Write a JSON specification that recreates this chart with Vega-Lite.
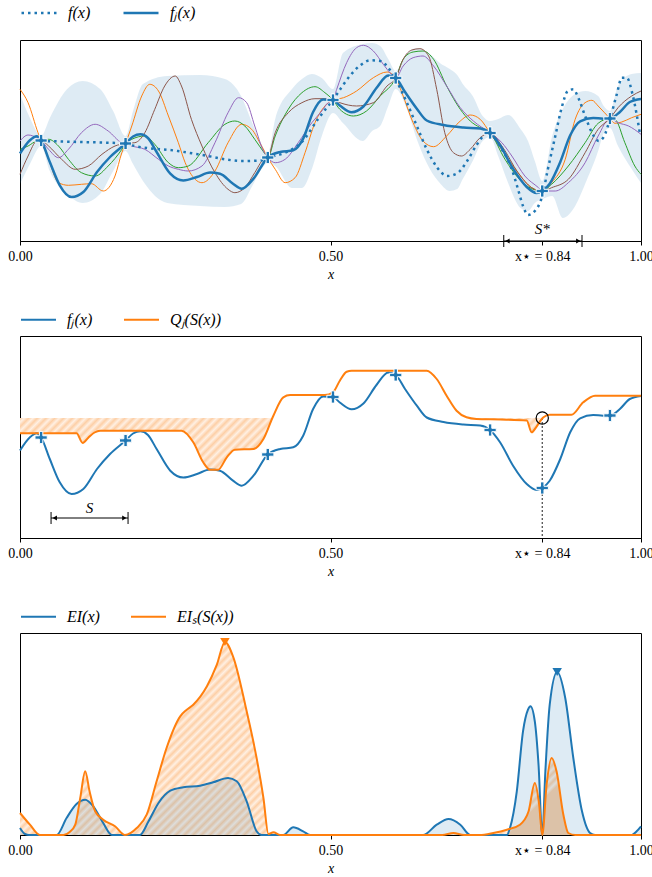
{
  "$schema": "https://vega.github.io/schema/vega-lite/v6.json",
  "padding": {"left": 7, "top": -7, "right": 5, "bottom": 5},
  "spacing": 18,
  "resolve": {"scale": {"color": "independent", "stroke": "independent", "shape": "independent", "fill": "independent"}, "legend": {"color": "independent"}},
  "config": {
    "view": {"stroke": "#000000", "strokeWidth": 1},
    "font": "Liberation Serif",
    "axis": {"grid": false, "labelFont": "Liberation Serif", "titleFont": "Liberation Serif", "labelFontSize": 14, "titleFontSize": 14, "labelColor": "#000", "titleColor": "#000", "tickColor": "#000", "domainColor": "#000", "titleFontWeight": "normal", "titleFontStyle": "italic", "tickSize": 4, "labelPadding": 4, "titlePadding": 4, "labelFlush": false, "labelOverlap": false},
    "legend": {"orient": "top", "direction": "horizontal", "symbolType": "stroke", "symbolSize": 1225, "symbolStrokeWidth": 2, "labelFont": "Liberation Serif", "labelFontStyle": "italic", "labelFontSize": 16, "labelColor": "#000", "columnPadding": 27, "labelOffset": 10, "offset": 8, "padding": 0}
  },
  "datasets": {
    "band": [
      {"x":0,"hi":147,"lo":57},{"x":0.016,"hi":123,"lo":77},{"x":0.034,"hi":105,"lo":95},{"x":0.048,"hi":123,"lo":70},{"x":0.076,"hi":152,"lo":47},{"x":0.101,"hi":160,"lo":38},{"x":0.129,"hi":152,"lo":47},{"x":0.150,"hi":130,"lo":70},{"x":0.170,"hi":105,"lo":90},{"x":0.182,"hi":130,"lo":77},{"x":0.198,"hi":157,"lo":60},{"x":0.237,"hi":165,"lo":38},{"x":0.290,"hi":166,"lo":35},{"x":0.330,"hi":162,"lo":34},{"x":0.356,"hi":145,"lo":37},{"x":0.374,"hi":118,"lo":55},{"x":0.388,"hi":98,"lo":71},{"x":0.399,"hi":88,"lo":78},{"x":0.411,"hi":122,"lo":75},{"x":0.438,"hi":152,"lo":53},{"x":0.454,"hi":162,"lo":53},{"x":0.470,"hi":167,"lo":72},{"x":0.486,"hi":163,"lo":105},{"x":0.504,"hi":152,"lo":128},{"x":0.520,"hi":188,"lo":118},{"x":0.552,"hi":197,"lo":100},{"x":0.567,"hi":198,"lo":110},{"x":0.580,"hi":195,"lo":115},{"x":0.593,"hi":182,"lo":135},{"x":0.605,"hi":170,"lo":152},{"x":0.623,"hi":188,"lo":132},{"x":0.640,"hi":193,"lo":100},{"x":0.660,"hi":187,"lo":72},{"x":0.676,"hi":178,"lo":58},{"x":0.692,"hi":172,"lo":50},{"x":0.704,"hi":166,"lo":52},{"x":0.713,"hi":157,"lo":62},{"x":0.729,"hi":145,"lo":80},{"x":0.745,"hi":125,"lo":100},{"x":0.757,"hi":120,"lo":104},{"x":0.770,"hi":122,"lo":85},{"x":0.786,"hi":126,"lo":58},{"x":0.806,"hi":112,"lo":33},{"x":0.818,"hi":100,"lo":30},{"x":0.829,"hi":80,"lo":38},{"x":0.841,"hi":60,"lo":42},{"x":0.857,"hi":105,"lo":45},{"x":0.874,"hi":132,"lo":23},{"x":0.894,"hi":147,"lo":35},{"x":0.910,"hi":150,"lo":57},{"x":0.931,"hi":145,"lo":90},{"x":0.940,"hi":135,"lo":108},{"x":0.950,"hi":130,"lo":113},{"x":0.963,"hi":155,"lo":95},{"x":0.985,"hi":167,"lo":72},{"x":1.0,"hi":168,"lo":58}
    ],
    "f": [
      {"x":0.034,"y":100},{"x":0.097,"y":99},{"x":0.169,"y":97.5},{"x":0.185,"y":95},{"x":0.254,"y":90},{"x":0.277,"y":87.7},{"x":0.303,"y":85},{"x":0.330,"y":81.7},{"x":0.357,"y":80},{"x":0.390,"y":80.7},{"x":0.399,"y":83},{"x":0.427,"y":88.3},{"x":0.454,"y":99},{"x":0.480,"y":122},{"x":0.494,"y":133.3},{"x":0.504,"y":141},{"x":0.512,"y":148.3},{"x":0.531,"y":165},{"x":0.548,"y":175.7},{"x":0.564,"y":180.7},{"x":0.580,"y":180},{"x":0.593,"y":173.3},{"x":0.604,"y":162.7},{"x":0.623,"y":138.3},{"x":0.639,"y":115},{"x":0.655,"y":91.7},{"x":0.672,"y":73.3},{"x":0.688,"y":65},{"x":0.704,"y":67.7},{"x":0.720,"y":80},{"x":0.736,"y":96.7},{"x":0.754,"y":108.3},{"x":0.776,"y":91.7},{"x":0.792,"y":71.7},{"x":0.802,"y":51.7},{"x":0.810,"y":35},{"x":0.818,"y":26},{"x":0.829,"y":30},{"x":0.841,"y":45},{"x":0.850,"y":71.7},{"x":0.862,"y":105},{"x":0.873,"y":135},{"x":0.882,"y":150},{"x":0.891,"y":151.7},{"x":0.899,"y":143.3},{"x":0.910,"y":125},{"x":0.921,"y":108.3},{"x":0.932,"y":100},{"x":0.940,"y":104},{"x":0.950,"y":122},{"x":0.961,"y":146.7},{"x":0.969,"y":163.3},{"x":0.977,"y":163.3},{"x":0.987,"y":145},{"x":0.998,"y":108.3}
    ],
    "fj": [
      {"x":0,"y":87.5},{"x":0.016,"y":100.7},{"x":0.027,"y":104.7},{"x":0.034,"y":100.5},{"x":0.048,"y":79},{"x":0.064,"y":55.7},{"x":0.083,"y":44},{"x":0.102,"y":49},{"x":0.124,"y":69},{"x":0.145,"y":84},{"x":0.170,"y":97.5},{"x":0.182,"y":104.5},{"x":0.194,"y":106.7},{"x":0.206,"y":103},{"x":0.220,"y":89},{"x":0.242,"y":67.3},{"x":0.263,"y":60.5},{"x":0.285,"y":64},{"x":0.306,"y":68.5},{"x":0.322,"y":67.3},{"x":0.343,"y":57.3},{"x":0.357,"y":52.3},{"x":0.376,"y":62.3},{"x":0.399,"y":83.5},{"x":0.419,"y":89},{"x":0.440,"y":90.7},{"x":0.456,"y":102.3},{"x":0.472,"y":129},{"x":0.488,"y":141.5},{"x":0.504,"y":141},{"x":0.515,"y":135.5},{"x":0.534,"y":128.7},{"x":0.553,"y":134.5},{"x":0.574,"y":153},{"x":0.593,"y":165.5},{"x":0.605,"y":163},{"x":0.620,"y":149},{"x":0.639,"y":132.3},{"x":0.655,"y":120.5},{"x":0.682,"y":116},{"x":0.714,"y":113.5},{"x":0.741,"y":112.5},{"x":0.757,"y":108},{"x":0.773,"y":95.7},{"x":0.794,"y":72.3},{"x":0.816,"y":54},{"x":0.832,"y":48},{"x":0.841,"y":50},{"x":0.853,"y":57.3},{"x":0.870,"y":79},{"x":0.886,"y":105.7},{"x":0.902,"y":119.7},{"x":0.923,"y":123},{"x":0.939,"y":122.3},{"x":0.950,"y":122.5},{"x":0.966,"y":129},{"x":0.982,"y":139},{"x":1.0,"y":142}
    ],
    "obs": [
      {"x":0.034,"y":100.5},{"x":0.170,"y":97.5},{"x":0.399,"y":83.5},{"x":0.504,"y":141},{"x":0.605,"y":163},{"x":0.757,"y":108},{"x":0.841,"y":50},{"x":0.950,"y":122.5}
    ],
    "samples": [
      {"c":"o","x":0,"y":151.7},{"c":"o","x":0.013,"y":138.3},{"c":"o","x":0.029,"y":108.3},{"c":"o","x":0.034,"y":100.5},{"c":"o","x":0.046,"y":81.7},{"c":"o","x":0.062,"y":58.3},{"c":"o","x":0.078,"y":55.7},{"c":"o","x":0.099,"y":56.7},{"c":"o","x":0.115,"y":57.3},{"c":"o","x":0.134,"y":50},{"c":"o","x":0.153,"y":65},{"c":"o","x":0.164,"y":88.3},{"c":"o","x":0.170,"y":97.5},{"c":"o","x":0.180,"y":115},{"c":"o","x":0.196,"y":145},{"c":"o","x":0.209,"y":156.7},{"c":"o","x":0.223,"y":150},{"c":"o","x":0.239,"y":125},{"c":"o","x":0.255,"y":98.3},{"c":"o","x":0.266,"y":78.3},{"c":"o","x":0.282,"y":61.7},{"c":"o","x":0.293,"y":58.3},{"c":"o","x":0.314,"y":70},{"c":"o","x":0.335,"y":98.3},{"c":"o","x":0.357,"y":116.7},{"c":"o","x":0.373,"y":111.7},{"c":"o","x":0.389,"y":95},{"c":"o","x":0.399,"y":83.5},{"c":"o","x":0.411,"y":71.7},{"c":"o","x":0.427,"y":58.3},{"c":"o","x":0.443,"y":63.3},{"c":"o","x":0.459,"y":88.3},{"c":"o","x":0.475,"y":118.3},{"c":"o","x":0.491,"y":135},{"c":"o","x":0.504,"y":141},{"c":"o","x":0.521,"y":143.3},{"c":"o","x":0.542,"y":150},{"c":"o","x":0.569,"y":163.3},{"c":"o","x":0.591,"y":169},{"c":"o","x":0.605,"y":163},{"c":"o","x":0.615,"y":148.3},{"c":"o","x":0.633,"y":118.3},{"c":"o","x":0.649,"y":100},{"c":"o","x":0.666,"y":94.3},{"c":"o","x":0.687,"y":105},{"c":"o","x":0.709,"y":120},{"c":"o","x":0.725,"y":126},{"c":"o","x":0.741,"y":121.7},{"c":"o","x":0.757,"y":108},{"c":"o","x":0.781,"y":86.7},{"c":"o","x":0.802,"y":68.3},{"c":"o","x":0.824,"y":53.3},{"c":"o","x":0.841,"y":50},{"c":"o","x":0.856,"y":58.3},{"c":"o","x":0.878,"y":81.7},{"c":"o","x":0.894,"y":121.7},{"c":"o","x":0.910,"y":138.3},{"c":"o","x":0.921,"y":140.7},{"c":"o","x":0.931,"y":135},{"c":"o","x":0.950,"y":122.5},{"c":"o","x":0.958,"y":117.7},{"c":"o","x":0.969,"y":119},{"c":"o","x":0.985,"y":123.3},{"c":"o","x":1.0,"y":126.7},
      {"c":"g","x":0,"y":91.7},{"c":"g","x":0.013,"y":95},{"c":"g","x":0.027,"y":100},{"c":"g","x":0.034,"y":100.5},{"c":"g","x":0.046,"y":101.7},{"c":"g","x":0.062,"y":95},{"c":"g","x":0.078,"y":81.7},{"c":"g","x":0.099,"y":68.3},{"c":"g","x":0.121,"y":65},{"c":"g","x":0.142,"y":75},{"c":"g","x":0.164,"y":91.7},{"c":"g","x":0.170,"y":97.5},{"c":"g","x":0.180,"y":101.7},{"c":"g","x":0.201,"y":105},{"c":"g","x":0.217,"y":96.7},{"c":"g","x":0.239,"y":78.3},{"c":"g","x":0.255,"y":73.3},{"c":"g","x":0.271,"y":75},{"c":"g","x":0.303,"y":98.3},{"c":"g","x":0.330,"y":116.7},{"c":"g","x":0.346,"y":120},{"c":"g","x":0.362,"y":115},{"c":"g","x":0.378,"y":101.7},{"c":"g","x":0.395,"y":86.7},{"c":"g","x":0.399,"y":83.5},{"c":"g","x":0.411,"y":105},{"c":"g","x":0.432,"y":131.7},{"c":"g","x":0.454,"y":148.3},{"c":"g","x":0.475,"y":154.3},{"c":"g","x":0.491,"y":148.3},{"c":"g","x":0.504,"y":141},{"c":"g","x":0.515,"y":131.7},{"c":"g","x":0.537,"y":125},{"c":"g","x":0.558,"y":130},{"c":"g","x":0.580,"y":145},{"c":"g","x":0.605,"y":163},{"c":"g","x":0.617,"y":181.7},{"c":"g","x":0.633,"y":189},{"c":"g","x":0.649,"y":190},{"c":"g","x":0.666,"y":181.7},{"c":"g","x":0.687,"y":155},{"c":"g","x":0.709,"y":131.7},{"c":"g","x":0.725,"y":120},{"c":"g","x":0.741,"y":113.3},{"c":"g","x":0.757,"y":108},{"c":"g","x":0.781,"y":81.7},{"c":"g","x":0.802,"y":63.3},{"c":"g","x":0.824,"y":52.3},{"c":"g","x":0.841,"y":50},{"c":"g","x":0.856,"y":56.7},{"c":"g","x":0.883,"y":75},{"c":"g","x":0.910,"y":98.3},{"c":"g","x":0.931,"y":117.7},{"c":"g","x":0.950,"y":122.5},{"c":"g","x":0.958,"y":121.7},{"c":"g","x":0.974,"y":98.3},{"c":"g","x":0.990,"y":75},{"c":"g","x":1.0,"y":66.7},
      {"c":"p","x":0,"y":100},{"c":"p","x":0.013,"y":106},{"c":"p","x":0.027,"y":103.3},{"c":"p","x":0.034,"y":100.5},{"c":"p","x":0.046,"y":91.7},{"c":"p","x":0.062,"y":83.3},{"c":"p","x":0.078,"y":91.7},{"c":"p","x":0.099,"y":108.3},{"c":"p","x":0.121,"y":116.7},{"c":"p","x":0.142,"y":110},{"c":"p","x":0.164,"y":98.3},{"c":"p","x":0.170,"y":97.5},{"c":"p","x":0.180,"y":95},{"c":"p","x":0.201,"y":91.7},{"c":"p","x":0.223,"y":81.7},{"c":"p","x":0.239,"y":75},{"c":"p","x":0.255,"y":71.7},{"c":"p","x":0.271,"y":70},{"c":"p","x":0.293,"y":75},{"c":"p","x":0.314,"y":98.3},{"c":"p","x":0.335,"y":128.3},{"c":"p","x":0.352,"y":143.3},{"c":"p","x":0.365,"y":138.3},{"c":"p","x":0.378,"y":115},{"c":"p","x":0.392,"y":90},{"c":"p","x":0.399,"y":83.5},{"c":"p","x":0.411,"y":78.3},{"c":"p","x":0.427,"y":81.7},{"c":"p","x":0.448,"y":98.3},{"c":"p","x":0.470,"y":118.3},{"c":"p","x":0.486,"y":130},{"c":"p","x":0.496,"y":138.3},{"c":"p","x":0.504,"y":141},{"c":"p","x":0.510,"y":151.7},{"c":"p","x":0.526,"y":178.3},{"c":"p","x":0.542,"y":193.3},{"c":"p","x":0.553,"y":195.7},{"c":"p","x":0.569,"y":190},{"c":"p","x":0.585,"y":176.7},{"c":"p","x":0.598,"y":166.7},{"c":"p","x":0.605,"y":163},{"c":"p","x":0.617,"y":175},{"c":"p","x":0.633,"y":183.3},{"c":"p","x":0.649,"y":185},{"c":"p","x":0.666,"y":175},{"c":"p","x":0.687,"y":155},{"c":"p","x":0.709,"y":133.3},{"c":"p","x":0.730,"y":120},{"c":"p","x":0.757,"y":108},{"c":"p","x":0.776,"y":98.3},{"c":"p","x":0.792,"y":85},{"c":"p","x":0.813,"y":65},{"c":"p","x":0.835,"y":53.3},{"c":"p","x":0.841,"y":50},{"c":"p","x":0.862,"y":50},{"c":"p","x":0.883,"y":58.3},{"c":"p","x":0.910,"y":78.3},{"c":"p","x":0.931,"y":105},{"c":"p","x":0.950,"y":122.5},{"c":"p","x":0.963,"y":118.3},{"c":"p","x":0.980,"y":115},{"c":"p","x":1.0,"y":106.7},
      {"c":"b","x":0,"y":66.7},{"c":"b","x":0.013,"y":85},{"c":"b","x":0.027,"y":100},{"c":"b","x":0.034,"y":100.5},{"c":"b","x":0.046,"y":95},{"c":"b","x":0.067,"y":81.7},{"c":"b","x":0.089,"y":71.7},{"c":"b","x":0.110,"y":75},{"c":"b","x":0.132,"y":86.7},{"c":"b","x":0.153,"y":95},{"c":"b","x":0.170,"y":97.5},{"c":"b","x":0.185,"y":98.3},{"c":"b","x":0.201,"y":108.3},{"c":"b","x":0.217,"y":131.7},{"c":"b","x":0.233,"y":155},{"c":"b","x":0.250,"y":165},{"c":"b","x":0.260,"y":155},{"c":"b","x":0.276,"y":121.7},{"c":"b","x":0.293,"y":95},{"c":"b","x":0.314,"y":68.3},{"c":"b","x":0.335,"y":51.7},{"c":"b","x":0.346,"y":48.3},{"c":"b","x":0.362,"y":53.3},{"c":"b","x":0.378,"y":68.3},{"c":"b","x":0.392,"y":81.7},{"c":"b","x":0.399,"y":83.5},{"c":"b","x":0.411,"y":108.3},{"c":"b","x":0.432,"y":128.3},{"c":"b","x":0.454,"y":138.3},{"c":"b","x":0.475,"y":142.3},{"c":"b","x":0.491,"y":142.3},{"c":"b","x":0.504,"y":141},{"c":"b","x":0.515,"y":138.3},{"c":"b","x":0.542,"y":135},{"c":"b","x":0.569,"y":138.3},{"c":"b","x":0.591,"y":155},{"c":"b","x":0.605,"y":163},{"c":"b","x":0.617,"y":181.7},{"c":"b","x":0.631,"y":191},{"c":"b","x":0.644,"y":192.3},{"c":"b","x":0.658,"y":185},{"c":"b","x":0.671,"y":151.7},{"c":"b","x":0.684,"y":108.3},{"c":"b","x":0.698,"y":88.3},{"c":"b","x":0.711,"y":85},{"c":"b","x":0.725,"y":91.7},{"c":"b","x":0.741,"y":103.3},{"c":"b","x":0.757,"y":108},{"c":"b","x":0.776,"y":95},{"c":"b","x":0.802,"y":68.3},{"c":"b","x":0.824,"y":53.3},{"c":"b","x":0.841,"y":50},{"c":"b","x":0.856,"y":53.3},{"c":"b","x":0.883,"y":61.7},{"c":"b","x":0.910,"y":88.3},{"c":"b","x":0.931,"y":111.7},{"c":"b","x":0.950,"y":122.5},{"c":"b","x":0.963,"y":133.3},{"c":"b","x":0.985,"y":145},{"c":"b","x":1.0,"y":150}
    ],
    "q": [
      {"x":0,"y":104.7},{"x":0.091,"y":104.7},{"x":0.101,"y":95},{"x":0.110,"y":100.3},{"x":0.120,"y":105.5},{"x":0.129,"y":107.3},{"x":0.260,"y":107.3},{"x":0.279,"y":95.7},{"x":0.295,"y":75.7},{"x":0.306,"y":68.3},{"x":0.319,"y":68.3},{"x":0.333,"y":80.7},{"x":0.346,"y":88.3},{"x":0.376,"y":89},{"x":0.392,"y":99},{"x":0.408,"y":122.3},{"x":0.424,"y":140.7},{"x":0.435,"y":143},{"x":0.491,"y":143},{"x":0.504,"y":145.7},{"x":0.515,"y":157.3},{"x":0.526,"y":166.3},{"x":0.534,"y":167.3},{"x":0.655,"y":167.3},{"x":0.671,"y":159},{"x":0.687,"y":142.3},{"x":0.703,"y":127.3},{"x":0.719,"y":120.7},{"x":0.735,"y":119},{"x":0.773,"y":118.5},{"x":0.816,"y":117.5},{"x":0.824,"y":105.7},{"x":0.831,"y":110.7},{"x":0.839,"y":118},{"x":0.843,"y":120.7},{"x":0.853,"y":123.3},{"x":0.888,"y":123.3},{"x":0.907,"y":135.7},{"x":0.926,"y":142.3},{"x":1.0,"y":142.3}
    ],
    "qfill": [
      {"seg":"a","x":0,"y":104.7},{"seg":"a","x":0.091,"y":104.7},{"seg":"a","x":0.101,"y":95},{"seg":"a","x":0.110,"y":100.3},{"seg":"a","x":0.120,"y":105.5},{"seg":"a","x":0.129,"y":107.3},{"seg":"a","x":0.260,"y":107.3},{"seg":"a","x":0.279,"y":95.7},{"seg":"a","x":0.295,"y":75.7},{"seg":"a","x":0.306,"y":68.3},{"seg":"a","x":0.319,"y":68.3},{"seg":"a","x":0.333,"y":80.7},{"seg":"a","x":0.346,"y":88.3},{"seg":"a","x":0.376,"y":89},{"seg":"a","x":0.392,"y":99},{"seg":"a","x":0.406,"y":120},
      {"seg":"b","x":0.723,"y":120},{"seg":"b","x":0.735,"y":119},{"seg":"b","x":0.773,"y":118.5},{"seg":"b","x":0.816,"y":117.5},{"seg":"b","x":0.824,"y":105.7},{"seg":"b","x":0.831,"y":110.7},{"seg":"b","x":0.839,"y":118},{"seg":"b","x":0.841,"y":120}
    ],
    "ei": [
      {"x":0,"y":7},{"x":0.008,"y":1},{"x":0.015,"y":0},{"x":0.059,"y":0},{"x":0.075,"y":17},{"x":0.091,"y":31},{"x":0.105,"y":35.3},{"x":0.118,"y":28.7},{"x":0.134,"y":12},{"x":0.148,"y":0},{"x":0.193,"y":0},{"x":0.207,"y":13.7},{"x":0.223,"y":32},{"x":0.242,"y":44.3},{"x":0.263,"y":47.7},{"x":0.290,"y":49.3},{"x":0.311,"y":52.7},{"x":0.335,"y":57},{"x":0.349,"y":53.7},{"x":0.365,"y":33.7},{"x":0.381,"y":3.7},{"x":0.389,"y":0},{"x":0.424,"y":0},{"x":0.440,"y":7.7},{"x":0.456,"y":3.7},{"x":0.467,"y":0},{"x":0.649,"y":0},{"x":0.671,"y":10.3},{"x":0.690,"y":16},{"x":0.709,"y":10.3},{"x":0.725,"y":0},{"x":0.784,"y":0},{"x":0.789,"y":7},{"x":0.800,"y":43.7},{"x":0.810,"y":103.7},{"x":0.818,"y":125.3},{"x":0.822,"y":128.7},{"x":0.829,"y":113.7},{"x":0.835,"y":70.3},{"x":0.841,"y":0},{"x":0.846,"y":63.7},{"x":0.853,"y":130.3},{"x":0.865,"y":163},{"x":0.878,"y":137},{"x":0.891,"y":77},{"x":0.905,"y":23.7},{"x":0.918,"y":2},{"x":0.926,"y":0},{"x":0.985,"y":0},{"x":0.993,"y":3.7},{"x":1.0,"y":8.7}
    ],
    "eis": [
      {"x":0,"y":22},{"x":0.016,"y":10.3},{"x":0.032,"y":0},{"x":0.070,"y":0},{"x":0.080,"y":3},{"x":0.089,"y":10.3},{"x":0.097,"y":37},{"x":0.105,"y":63.7},{"x":0.112,"y":43.7},{"x":0.121,"y":23.7},{"x":0.134,"y":15.3},{"x":0.153,"y":8.7},{"x":0.169,"y":0},{"x":0.188,"y":7},{"x":0.204,"y":20.3},{"x":0.220,"y":53.7},{"x":0.236,"y":87},{"x":0.258,"y":118.7},{"x":0.268,"y":125},{"x":0.279,"y":130.3},{"x":0.301,"y":148.7},{"x":0.317,"y":170.3},{"x":0.330,"y":193},{"x":0.343,"y":178.7},{"x":0.365,"y":123.7},{"x":0.381,"y":77},{"x":0.392,"y":37},{"x":0.400,"y":1},{"x":0.408,"y":2.7},{"x":0.419,"y":0},{"x":0.680,"y":0},{"x":0.698,"y":2},{"x":0.715,"y":0},{"x":0.740,"y":0},{"x":0.762,"y":2},{"x":0.784,"y":5.3},{"x":0.805,"y":10.3},{"x":0.819,"y":23.7},{"x":0.829,"y":52},{"x":0.836,"y":30.3},{"x":0.841,"y":0},{"x":0.848,"y":50.3},{"x":0.856,"y":77},{"x":0.864,"y":63.7},{"x":0.875,"y":20.3},{"x":0.883,"y":2},{"x":0.894,"y":0},{"x":1.0,"y":0}
    ],
    "peaks": [{"x":0.330,"y":193,"s":"o"},{"x":0.865,"y":163,"s":"b"}],
    "brk1": [{"x":0.779,"x2":0.905,"y":0}],
    "ends1": [{"x":0.779,"ya":6,"yb":-6},{"x":0.905,"ya":6,"yb":-6}],
    "arr1": [{"x":0.785,"y":0,"d":"l"},{"x":0.899,"y":0,"d":"r"}],
    "lab1": [{"x":0.841,"y":12,"t":"S*"}],
    "brk2": [{"x":0.050,"x2":0.174,"y":20}],
    "ends2": [{"x":0.050,"ya":26,"yb":14},{"x":0.174,"ya":26,"yb":14}],
    "arr2": [{"x":0.056,"y":20,"d":"l"},{"x":0.168,"y":20,"d":"r"}],
    "lab2": [{"x":0.112,"y":30,"t":"S"}],
    "thr": [{"y":120}],
    "star": [{"x":0.841,"y":120,"y0":0}]
  },
  "vconcat": [
    {
      "width": 621, "height": 201,
      "encoding": {"x": {"field": "x", "type": "quantitative", "scale": {"domain": [0, 1], "nice": false, "zero": false}, "axis": {"values": [0, 0.5, 0.841, 1], "labelExpr": "datum.value > 0.8 && datum.value < 0.9 ? 'x⋆ = 0.84' : format(datum.value, '.2f')", "title": "x"}}},
      "layer": [
        {"data": {"name": "band"}, "mark": {"type": "area", "interpolate": "monotone", "color": "#1f77b4", "opacity": 0.15},
         "encoding": {"y": {"field": "hi", "type": "quantitative", "scale": {"domain": [0, 201], "nice": false, "zero": false}, "axis": null}, "y2": {"field": "lo"}}},
        {"data": {"name": "samples"}, "mark": {"type": "line", "interpolate": "monotone", "strokeWidth": 1},
         "encoding": {"y": {"field": "y", "type": "quantitative"}, "stroke": {"field": "c", "type": "nominal", "scale": {"domain": ["o", "g", "p", "b"], "range": ["#ff7f0e", "#2ca02c", "#9467bd", "#8c564b"]}, "legend": null}}},
        {"data": {"name": "fj"}, "mark": {"type": "line", "interpolate": "monotone", "strokeWidth": 2.5},
         "encoding": {"y": {"field": "y", "type": "quantitative"}, "color": {"datum": "fⱼ(x)", "type": "nominal", "scale": {"domain": ["f(x)", "fⱼ(x)"], "range": ["#1f77b4", "#1f77b4"]}, "legend": {"title": null, "offset": 19, "encode": {"symbols": {"update": {"strokeDash": {"signal": "datum.value == 'f(x)' ? [2.5, 4] : [1, 0]"}, "strokeWidth": {"value": 2.5}}}}}}}},
        {"data": {"name": "f"}, "mark": {"type": "line", "interpolate": "monotone", "strokeWidth": 2.5, "strokeDash": [2.5, 4]},
         "encoding": {"y": {"field": "y", "type": "quantitative"}, "color": {"datum": "f(x)", "type": "nominal"}}},
        {"data": {"name": "obs"}, "mark": {"type": "point", "shape": "M-1,-0.28H-0.28V-1H0.28V-0.28H1V0.28H0.28V1H-0.28V0.28H-1Z", "filled": true, "size": 150, "fill": "#1f77b4", "stroke": "#ffffff", "strokeWidth": 1, "opacity": 1},
         "encoding": {"y": {"field": "y", "type": "quantitative"}}},
        {"data": {"name": "brk1"}, "mark": {"type": "rule", "color": "#000", "strokeWidth": 1, "clip": false},
         "encoding": {"x2": {"field": "x2"}, "y": {"field": "y", "type": "quantitative"}}},
        {"data": {"name": "ends1"}, "mark": {"type": "rule", "color": "#000", "strokeWidth": 1, "clip": false},
         "encoding": {"y": {"field": "ya", "type": "quantitative"}, "y2": {"field": "yb"}}},
        {"data": {"name": "arr1"}, "mark": {"type": "point", "filled": true, "size": 25, "color": "#000", "opacity": 1, "clip": false},
         "encoding": {"y": {"field": "y", "type": "quantitative"}, "shape": {"field": "d", "type": "nominal", "scale": {"domain": ["l", "r"], "range": ["triangle-left", "triangle-right"]}, "legend": null}}},
        {"data": {"name": "lab1"}, "mark": {"type": "text", "font": "Liberation Serif", "fontStyle": "italic", "fontSize": 15, "baseline": "middle", "align": "center", "color": "#000"},
         "encoding": {"y": {"field": "y", "type": "quantitative"}, "text": {"field": "t"}}}
      ]
    },
    {
      "width": 621, "height": 202,
      "encoding": {"x": {"field": "x", "type": "quantitative", "scale": {"domain": [0, 1], "nice": false, "zero": false}, "axis": {"values": [0, 0.5, 0.841, 1], "labelExpr": "datum.value > 0.8 && datum.value < 0.9 ? 'x⋆ = 0.84' : format(datum.value, '.2f')", "title": "x"}}},
      "layer": [
        {"data": {"name": "qfill"}, "transform": [{"filter": {"field": "seg", "equal": "a"}}],
         "mark": {"type": "area", "interpolate": "monotone", "color": {"gradient": "linear", "x1": 0, "y1": 0, "x2": 1, "y2": 0.205, "stops": [
           {"offset":0,"color":"#fdcfa6"},{"offset":0.0167,"color":"#fff0e3"},{"offset":0.0333,"color":"#fdcfa6"},{"offset":0.05,"color":"#fff0e3"},{"offset":0.0667,"color":"#fdcfa6"},{"offset":0.0833,"color":"#fff0e3"},{"offset":0.1,"color":"#fdcfa6"},{"offset":0.1167,"color":"#fff0e3"},{"offset":0.1333,"color":"#fdcfa6"},{"offset":0.15,"color":"#fff0e3"},{"offset":0.1667,"color":"#fdcfa6"},{"offset":0.1833,"color":"#fff0e3"},{"offset":0.2,"color":"#fdcfa6"},{"offset":0.2167,"color":"#fff0e3"},{"offset":0.2333,"color":"#fdcfa6"},{"offset":0.25,"color":"#fff0e3"},{"offset":0.2667,"color":"#fdcfa6"},{"offset":0.2833,"color":"#fff0e3"},{"offset":0.3,"color":"#fdcfa6"},{"offset":0.3167,"color":"#fff0e3"},{"offset":0.3333,"color":"#fdcfa6"},{"offset":0.35,"color":"#fff0e3"},{"offset":0.3667,"color":"#fdcfa6"},{"offset":0.3833,"color":"#fff0e3"},{"offset":0.4,"color":"#fdcfa6"},{"offset":0.4167,"color":"#fff0e3"},{"offset":0.4333,"color":"#fdcfa6"},{"offset":0.45,"color":"#fff0e3"},{"offset":0.4667,"color":"#fdcfa6"},{"offset":0.4833,"color":"#fff0e3"},{"offset":0.5,"color":"#fdcfa6"},{"offset":0.5167,"color":"#fff0e3"},{"offset":0.5333,"color":"#fdcfa6"},{"offset":0.55,"color":"#fff0e3"},{"offset":0.5667,"color":"#fdcfa6"},{"offset":0.5833,"color":"#fff0e3"},{"offset":0.6,"color":"#fdcfa6"},{"offset":0.6167,"color":"#fff0e3"},{"offset":0.6333,"color":"#fdcfa6"},{"offset":0.65,"color":"#fff0e3"},{"offset":0.6667,"color":"#fdcfa6"},{"offset":0.6833,"color":"#fff0e3"},{"offset":0.7,"color":"#fdcfa6"},{"offset":0.7167,"color":"#fff0e3"},{"offset":0.7333,"color":"#fdcfa6"},{"offset":0.75,"color":"#fff0e3"},{"offset":0.7667,"color":"#fdcfa6"},{"offset":0.7833,"color":"#fff0e3"},{"offset":0.8,"color":"#fdcfa6"},{"offset":0.8167,"color":"#fff0e3"},{"offset":0.8333,"color":"#fdcfa6"},{"offset":0.85,"color":"#fff0e3"},{"offset":0.8667,"color":"#fdcfa6"},{"offset":0.8833,"color":"#fff0e3"},{"offset":0.9,"color":"#fdcfa6"},{"offset":0.9167,"color":"#fff0e3"},{"offset":0.9333,"color":"#fdcfa6"},{"offset":0.95,"color":"#fff0e3"},{"offset":0.9667,"color":"#fdcfa6"},{"offset":0.9833,"color":"#fff0e3"},{"offset":1,"color":"#fdcfa6"}]}},
         "encoding": {"y": {"field": "y", "type": "quantitative", "scale": {"domain": [0, 202], "nice": false, "zero": false}, "axis": null}, "y2": {"datum": 120}}},
        {"data": {"name": "qfill"}, "transform": [{"filter": {"field": "seg", "equal": "b"}}],
         "mark": {"type": "area", "interpolate": "monotone", "color": {"gradient": "linear", "x1": 0, "y1": 0, "x2": 1, "y2": 0.196, "stops": [
           {"offset":0,"color":"#fdcfa6"},{"offset":0.0556,"color":"#fff0e3"},{"offset":0.1111,"color":"#fdcfa6"},{"offset":0.1667,"color":"#fff0e3"},{"offset":0.2222,"color":"#fdcfa6"},{"offset":0.2778,"color":"#fff0e3"},{"offset":0.3333,"color":"#fdcfa6"},{"offset":0.3889,"color":"#fff0e3"},{"offset":0.4444,"color":"#fdcfa6"},{"offset":0.5,"color":"#fff0e3"},{"offset":0.5556,"color":"#fdcfa6"},{"offset":0.6111,"color":"#fff0e3"},{"offset":0.6667,"color":"#fdcfa6"},{"offset":0.7222,"color":"#fff0e3"},{"offset":0.7778,"color":"#fdcfa6"},{"offset":0.8333,"color":"#fff0e3"},{"offset":0.8889,"color":"#fdcfa6"},{"offset":0.9444,"color":"#fff0e3"},{"offset":1,"color":"#fdcfa6"}]}},
         "encoding": {"y": {"field": "y", "type": "quantitative"}, "y2": {"datum": 120}}},
        {"data": {"name": "thr"}, "mark": {"type": "rule", "color": "#ff7f0e", "strokeWidth": 1, "strokeDash": [7, 2.5, 1.5, 2.5]},
         "encoding": {"y": {"field": "y", "type": "quantitative"}}},
        {"data": {"name": "star"}, "mark": {"type": "rule", "color": "#444444", "strokeWidth": 1.2, "strokeDash": [2, 2]},
         "encoding": {"y": {"field": "y", "type": "quantitative"}, "y2": {"field": "y0"}}},
        {"data": {"name": "fj"}, "mark": {"type": "line", "interpolate": "monotone", "strokeWidth": 2},
         "encoding": {"y": {"field": "y", "type": "quantitative"}, "color": {"datum": "fⱼ(x)", "type": "nominal", "scale": {"domain": ["fⱼ(x)", "Qⱼ(S(x))"], "range": ["#1f77b4", "#ff7f0e"]}, "legend": {"title": null}}}},
        {"data": {"name": "q"}, "mark": {"type": "line", "interpolate": "monotone", "strokeWidth": 2},
         "encoding": {"y": {"field": "y", "type": "quantitative"}, "color": {"datum": "Qⱼ(S(x))", "type": "nominal"}}},
        {"data": {"name": "obs"}, "mark": {"type": "point", "shape": "M-1,-0.28H-0.28V-1H0.28V-0.28H1V0.28H0.28V1H-0.28V0.28H-1Z", "filled": true, "size": 150, "fill": "#1f77b4", "stroke": "#ffffff", "strokeWidth": 1, "opacity": 1},
         "encoding": {"y": {"field": "y", "type": "quantitative"}}},
        {"data": {"name": "star"}, "mark": {"type": "point", "shape": "circle", "filled": false, "size": 150, "stroke": "#000", "strokeWidth": 1.2, "opacity": 1},
         "encoding": {"y": {"field": "y", "type": "quantitative"}}},
        {"data": {"name": "brk2"}, "mark": {"type": "rule", "color": "#000", "strokeWidth": 1},
         "encoding": {"x2": {"field": "x2"}, "y": {"field": "y", "type": "quantitative"}}},
        {"data": {"name": "ends2"}, "mark": {"type": "rule", "color": "#000", "strokeWidth": 1},
         "encoding": {"y": {"field": "ya", "type": "quantitative"}, "y2": {"field": "yb"}}},
        {"data": {"name": "arr2"}, "mark": {"type": "point", "filled": true, "size": 25, "color": "#000", "opacity": 1},
         "encoding": {"y": {"field": "y", "type": "quantitative"}, "shape": {"field": "d", "type": "nominal", "scale": {"domain": ["l", "r"], "range": ["triangle-left", "triangle-right"]}, "legend": null}}},
        {"data": {"name": "lab2"}, "mark": {"type": "text", "font": "Liberation Serif", "fontStyle": "italic", "fontSize": 15, "baseline": "middle", "align": "center", "color": "#000"},
         "encoding": {"y": {"field": "y", "type": "quantitative"}, "text": {"field": "t"}}}
      ]
    },
    {
      "width": 621, "height": 202,
      "encoding": {"x": {"field": "x", "type": "quantitative", "scale": {"domain": [0, 1], "nice": false, "zero": false}, "axis": {"values": [0, 0.5, 0.841, 1], "labelExpr": "datum.value > 0.8 && datum.value < 0.9 ? 'x⋆ = 0.84' : format(datum.value, '.2f')", "title": "x"}}},
      "layer": [
        {"data": {"name": "eis"}, "mark": {"type": "area", "interpolate": "monotone", "color": {"gradient": "linear", "x1": 0, "y1": 0, "x2": 1, "y2": 0.311, "stops": [
           {"offset":0,"color":"#fdcfa6"},{"offset":0.00625,"color":"#fff0e3"},{"offset":0.0125,"color":"#fdcfa6"},{"offset":0.01875,"color":"#fff0e3"},{"offset":0.025,"color":"#fdcfa6"},{"offset":0.03125,"color":"#fff0e3"},{"offset":0.0375,"color":"#fdcfa6"},{"offset":0.04375,"color":"#fff0e3"},{"offset":0.05,"color":"#fdcfa6"},{"offset":0.05625,"color":"#fff0e3"},{"offset":0.0625,"color":"#fdcfa6"},{"offset":0.06875,"color":"#fff0e3"},{"offset":0.075,"color":"#fdcfa6"},{"offset":0.08125,"color":"#fff0e3"},{"offset":0.0875,"color":"#fdcfa6"},{"offset":0.09375,"color":"#fff0e3"},
           {"offset":0.1,"color":"#fdcfa6"},{"offset":0.10625,"color":"#fff0e3"},{"offset":0.1125,"color":"#fdcfa6"},{"offset":0.11875,"color":"#fff0e3"},{"offset":0.125,"color":"#fdcfa6"},{"offset":0.13125,"color":"#fff0e3"},{"offset":0.1375,"color":"#fdcfa6"},{"offset":0.14375,"color":"#fff0e3"},{"offset":0.15,"color":"#fdcfa6"},{"offset":0.15625,"color":"#fff0e3"},{"offset":0.1625,"color":"#fdcfa6"},{"offset":0.16875,"color":"#fff0e3"},{"offset":0.175,"color":"#fdcfa6"},{"offset":0.18125,"color":"#fff0e3"},{"offset":0.1875,"color":"#fdcfa6"},{"offset":0.19375,"color":"#fff0e3"},
           {"offset":0.2,"color":"#fdcfa6"},{"offset":0.20625,"color":"#fff0e3"},{"offset":0.2125,"color":"#fdcfa6"},{"offset":0.21875,"color":"#fff0e3"},{"offset":0.225,"color":"#fdcfa6"},{"offset":0.23125,"color":"#fff0e3"},{"offset":0.2375,"color":"#fdcfa6"},{"offset":0.24375,"color":"#fff0e3"},{"offset":0.25,"color":"#fdcfa6"},{"offset":0.25625,"color":"#fff0e3"},{"offset":0.2625,"color":"#fdcfa6"},{"offset":0.26875,"color":"#fff0e3"},{"offset":0.275,"color":"#fdcfa6"},{"offset":0.28125,"color":"#fff0e3"},{"offset":0.2875,"color":"#fdcfa6"},{"offset":0.29375,"color":"#fff0e3"},
           {"offset":0.3,"color":"#fdcfa6"},{"offset":0.30625,"color":"#fff0e3"},{"offset":0.3125,"color":"#fdcfa6"},{"offset":0.31875,"color":"#fff0e3"},{"offset":0.325,"color":"#fdcfa6"},{"offset":0.33125,"color":"#fff0e3"},{"offset":0.3375,"color":"#fdcfa6"},{"offset":0.34375,"color":"#fff0e3"},{"offset":0.35,"color":"#fdcfa6"},{"offset":0.35625,"color":"#fff0e3"},{"offset":0.3625,"color":"#fdcfa6"},{"offset":0.36875,"color":"#fff0e3"},{"offset":0.375,"color":"#fdcfa6"},{"offset":0.38125,"color":"#fff0e3"},{"offset":0.3875,"color":"#fdcfa6"},{"offset":0.39375,"color":"#fff0e3"},
           {"offset":0.4,"color":"#fdcfa6"},{"offset":0.40625,"color":"#fff0e3"},{"offset":0.4125,"color":"#fdcfa6"},{"offset":0.41875,"color":"#fff0e3"},{"offset":0.425,"color":"#fdcfa6"},{"offset":0.43125,"color":"#fff0e3"},{"offset":0.4375,"color":"#fdcfa6"},{"offset":0.44375,"color":"#fff0e3"},{"offset":0.45,"color":"#fdcfa6"},{"offset":0.45625,"color":"#fff0e3"},{"offset":0.4625,"color":"#fdcfa6"},{"offset":0.46875,"color":"#fff0e3"},{"offset":0.475,"color":"#fdcfa6"},{"offset":0.48125,"color":"#fff0e3"},{"offset":0.4875,"color":"#fdcfa6"},{"offset":0.49375,"color":"#fff0e3"},
           {"offset":0.5,"color":"#fdcfa6"},{"offset":0.50625,"color":"#fff0e3"},{"offset":0.5125,"color":"#fdcfa6"},{"offset":0.51875,"color":"#fff0e3"},{"offset":0.525,"color":"#fdcfa6"},{"offset":0.53125,"color":"#fff0e3"},{"offset":0.5375,"color":"#fdcfa6"},{"offset":0.54375,"color":"#fff0e3"},{"offset":0.55,"color":"#fdcfa6"},{"offset":0.55625,"color":"#fff0e3"},{"offset":0.5625,"color":"#fdcfa6"},{"offset":0.56875,"color":"#fff0e3"},{"offset":0.575,"color":"#fdcfa6"},{"offset":0.58125,"color":"#fff0e3"},{"offset":0.5875,"color":"#fdcfa6"},{"offset":0.59375,"color":"#fff0e3"},
           {"offset":0.6,"color":"#fdcfa6"},{"offset":0.60625,"color":"#fff0e3"},{"offset":0.6125,"color":"#fdcfa6"},{"offset":0.61875,"color":"#fff0e3"},{"offset":0.625,"color":"#fdcfa6"},{"offset":0.63125,"color":"#fff0e3"},{"offset":0.6375,"color":"#fdcfa6"},{"offset":0.64375,"color":"#fff0e3"},{"offset":0.65,"color":"#fdcfa6"},{"offset":0.65625,"color":"#fff0e3"},{"offset":0.6625,"color":"#fdcfa6"},{"offset":0.66875,"color":"#fff0e3"},{"offset":0.675,"color":"#fdcfa6"},{"offset":0.68125,"color":"#fff0e3"},{"offset":0.6875,"color":"#fdcfa6"},{"offset":0.69375,"color":"#fff0e3"},
           {"offset":0.7,"color":"#fdcfa6"},{"offset":0.70625,"color":"#fff0e3"},{"offset":0.7125,"color":"#fdcfa6"},{"offset":0.71875,"color":"#fff0e3"},{"offset":0.725,"color":"#fdcfa6"},{"offset":0.73125,"color":"#fff0e3"},{"offset":0.7375,"color":"#fdcfa6"},{"offset":0.74375,"color":"#fff0e3"},{"offset":0.75,"color":"#fdcfa6"},{"offset":0.75625,"color":"#fff0e3"},{"offset":0.7625,"color":"#fdcfa6"},{"offset":0.76875,"color":"#fff0e3"},{"offset":0.775,"color":"#fdcfa6"},{"offset":0.78125,"color":"#fff0e3"},{"offset":0.7875,"color":"#fdcfa6"},{"offset":0.79375,"color":"#fff0e3"},
           {"offset":0.8,"color":"#fdcfa6"},{"offset":0.80625,"color":"#fff0e3"},{"offset":0.8125,"color":"#fdcfa6"},{"offset":0.81875,"color":"#fff0e3"},{"offset":0.825,"color":"#fdcfa6"},{"offset":0.83125,"color":"#fff0e3"},{"offset":0.8375,"color":"#fdcfa6"},{"offset":0.84375,"color":"#fff0e3"},{"offset":0.85,"color":"#fdcfa6"},{"offset":0.85625,"color":"#fff0e3"},{"offset":0.8625,"color":"#fdcfa6"},{"offset":0.86875,"color":"#fff0e3"},{"offset":0.875,"color":"#fdcfa6"},{"offset":0.88125,"color":"#fff0e3"},{"offset":0.8875,"color":"#fdcfa6"},{"offset":0.89375,"color":"#fff0e3"},
           {"offset":0.9,"color":"#fdcfa6"},{"offset":0.90625,"color":"#fff0e3"},{"offset":0.9125,"color":"#fdcfa6"},{"offset":0.91875,"color":"#fff0e3"},{"offset":0.925,"color":"#fdcfa6"},{"offset":0.93125,"color":"#fff0e3"},{"offset":0.9375,"color":"#fdcfa6"},{"offset":0.94375,"color":"#fff0e3"},{"offset":0.95,"color":"#fdcfa6"},{"offset":0.95625,"color":"#fff0e3"},{"offset":0.9625,"color":"#fdcfa6"},{"offset":0.96875,"color":"#fff0e3"},{"offset":0.975,"color":"#fdcfa6"},{"offset":0.98125,"color":"#fff0e3"},{"offset":0.9875,"color":"#fdcfa6"},{"offset":0.99375,"color":"#fff0e3"},
           {"offset":1,"color":"#fdcfa6"}]}},
         "encoding": {"y": {"field": "y", "type": "quantitative", "scale": {"domain": [0, 202], "nice": false, "zero": false}, "axis": null}}},
        {"data": {"name": "ei"}, "mark": {"type": "area", "interpolate": "monotone", "color": "#1f77b4", "opacity": 0.15},
         "encoding": {"y": {"field": "y", "type": "quantitative"}}},
        {"data": {"name": "ei"}, "mark": {"type": "line", "interpolate": "monotone", "strokeWidth": 2},
         "encoding": {"y": {"field": "y", "type": "quantitative"}, "color": {"datum": "EI(x)", "type": "nominal", "scale": {"domain": ["EI(x)", "EIₛ(S(x))"], "range": ["#1f77b4", "#ff7f0e"]}, "legend": {"title": null}}}},
        {"data": {"name": "eis"}, "mark": {"type": "line", "interpolate": "monotone", "strokeWidth": 2},
         "encoding": {"y": {"field": "y", "type": "quantitative"}, "color": {"datum": "EIₛ(S(x))", "type": "nominal"}}},
        {"data": {"name": "peaks"}, "mark": {"type": "point", "shape": "triangle-down", "filled": true, "size": 90, "opacity": 1},
         "encoding": {"y": {"field": "y", "type": "quantitative"}, "fill": {"field": "s", "type": "nominal", "scale": {"domain": ["o", "b"], "range": ["#ff7f0e", "#1f77b4"]}, "legend": null}}}
      ]
    }
  ]
}
